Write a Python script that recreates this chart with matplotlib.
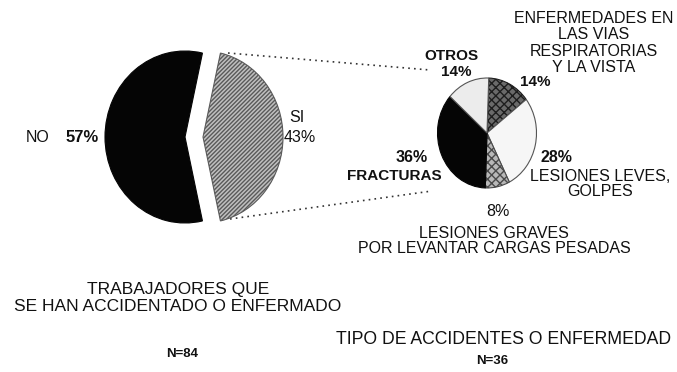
import matplotlib
matplotlib.use("Agg")
import matplotlib.pyplot as plt

plt.rcParams['font.family'] = ['Liberation Sans', 'DejaVu Sans']

# ---- data ----
left_labels = ["NO", "SI"]
left_values = [57, 43]
right_labels = ["ENFERMEDADES EN\nLAS VIAS\nRESPIRATORIAS\nY LA VISTA",
                "LESIONES LEVES,\nGOLPES",
                "LESIONES GRAVES\nPOR LEVANTAR CARGAS PESADAS",
                "FRACTURAS",
                "OTROS"]
right_values = [14, 28, 8, 36, 14]
left_title = "TRABAJADORES QUE\nSE HAN ACCIDENTADO O ENFERMADO"
left_n = "N=84"
right_title = "TIPO DE ACCIDENTES O ENFERMEDAD"
right_n = "N=36"

W, H = 677, 372
fig = plt.figure(figsize=(W / 100, H / 100), dpi=100)
fig.patch.set_facecolor("white")

def pie_axes(cx, cy, rx, ry):
    return fig.add_axes([(cx - 1.5 * rx) / W, (H - (cy + 1.5 * ry)) / H, 3 * rx / W, 3 * ry / H])

def fix(ax):
    ax.set_aspect('auto')
    ax.set_xlim(-1.5, 1.5)
    ax.set_ylim(-1.5, 1.5)
    ax.axis('off')

main = fig.add_axes([0, 0, 1, 1])
main.set_xlim(0, W)
main.set_ylim(H, 0)
main.axis('off')

# left pie
axl = pie_axes(185, 137, 80, 86)
wl, _ = axl.pie(left_values, startangle=77.4, counterclock=True,
                explode=[0, 0.225], radius=1,
                colors=["#050505", "#c0c0c0"],
                wedgeprops=dict(linewidth=0.8))
wl[0].set_edgecolor("#050505")
wl[1].set_hatch("////////")
wl[1].set_edgecolor("#5a5a5a")
fix(axl)

# right pie
axr = pie_axes(487, 133, 49.5, 55)
wr, _ = axr.pie(right_values, startangle=88, counterclock=False, radius=1,
                colors=["#6a6a6a", "#f6f6f6", "#b8b8b8", "#050505", "#ececec"],
                wedgeprops=dict(linewidth=0.8))
wr[0].set_hatch("xxxx"); wr[0].set_edgecolor("#1e1e1e")
wr[1].set_edgecolor("#555555")
wr[2].set_hatch("xxxx"); wr[2].set_edgecolor("#4a4a4a")
wr[3].set_edgecolor("#050505")
wr[4].set_edgecolor("#555555")
fix(axr)

# connector dotted lines
main.plot([228, 430], [53, 70], linestyle=(0, (1, 2.5)), color="#333333", lw=1.2)
main.plot([230, 432], [219, 191], linestyle=(0, (1, 2.5)), color="#333333", lw=1.2)

fs = 11.5
tc = "#111111"
main.text(26, 138, left_labels[0], fontsize=fs, ha='left', va='center', color=tc)
main.text(66, 138, f"{left_values[0]}%", fontsize=fs + 0.5, ha='left', va='center', color=tc, fontweight='bold')
main.text(297, 118, left_labels[1], fontsize=fs, ha='center', va='center', color=tc)
main.text(300, 138, f"{left_values[1]}%", fontsize=fs, ha='center', va='center', color=tc)

main.text(451, 56, right_labels[4], fontsize=fs - 0.5, ha='center', va='center', color=tc, fontweight='bold')
main.text(456, 72, f"{right_values[4]}%", fontsize=fs - 0.5, ha='center', va='center', color=tc, fontweight='bold')

main.text(594, 43, right_labels[0], fontsize=fs, ha='center', va='center', color=tc, linespacing=1.1)
main.text(535, 82, f"{right_values[0]}%", fontsize=fs - 0.5, ha='center', va='center', color=tc, fontweight='bold')

main.text(556, 158, f"{right_values[1]}%", fontsize=fs, ha='center', va='center', color=tc, fontweight='bold')
main.text(600, 184, right_labels[1], fontsize=fs, ha='center', va='center', color=tc, linespacing=1.05)

main.text(498, 212, f"{right_values[2]}%", fontsize=fs, ha='center', va='center', color=tc)
main.text(494, 241, right_labels[2], fontsize=fs, ha='center', va='center', color=tc, linespacing=0.95)

main.text(412, 158, f"{right_values[3]}%", fontsize=fs, ha='center', va='center', color=tc, fontweight='bold')
main.text(394, 176, right_labels[3], fontsize=fs - 0.5, ha='center', va='center', color=tc, fontweight='bold')

main.text(178, 298, left_title, fontsize=12.5, ha='center', va='center', color=tc, linespacing=1.22)
main.text(182, 354, left_n, fontsize=9.5, ha='center', va='center', color=tc, fontweight='bold')
main.text(504, 339, right_title, fontsize=12.7, ha='center', va='center', color=tc)
main.text(492, 361, right_n, fontsize=9.5, ha='center', va='center', color=tc, fontweight='bold')

fig.savefig("out.png", dpi=100, facecolor="white")
